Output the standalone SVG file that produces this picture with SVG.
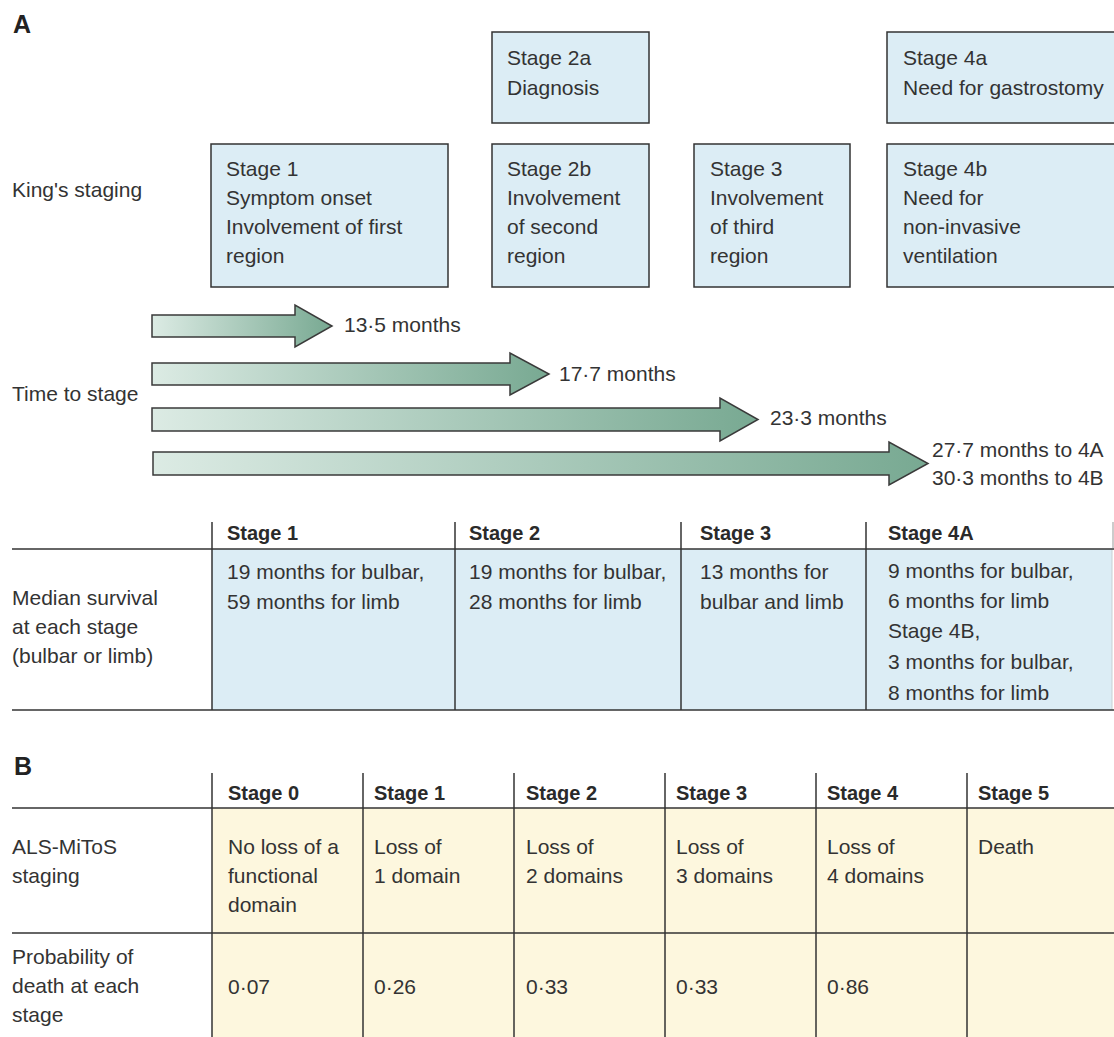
<svg xmlns="http://www.w3.org/2000/svg" width="1114" height="1037" viewBox="0 0 1114 1037">
<defs>
<linearGradient id="ag" x1="0" y1="0" x2="1" y2="0">
<stop offset="0" stop-color="#dcebe4"/>
<stop offset="1" stop-color="#78a992"/>
</linearGradient>
<style>
text{font-family:"Liberation Sans",Arial,sans-serif;font-size:21px;fill:#333}
.h{font-weight:bold;font-size:20px;fill:#2a2a2a}
.panel{font-weight:bold;font-size:25px;fill:#222}
.box{fill:#dcedf5;stroke:#333;stroke-width:1.5}
.arrow{fill:url(#ag);stroke:#3a3a3a;stroke-width:1.5;stroke-linejoin:miter}
.ln{stroke:#333;stroke-width:1.5;fill:none}
.blue{fill:#dcedf5}
.cream{fill:#fdf7de}
</style>
</defs>
<rect width="1114" height="1037" fill="#fff"/>

<text class="panel" x="13" y="33">A</text>
<text x="12" y="197">King's staging</text>
<text x="12" y="401">Time to stage</text>

<g id="stage2a">
<rect class="box" x="492" y="32" width="157" height="91"/>
<text x="507" y="65">Stage 2a</text>
<text x="507" y="95">Diagnosis</text>
</g>
<g id="stage4a">
<rect class="box" x="887" y="32" width="240" height="91"/>
<text x="903" y="65">Stage 4a</text>
<text x="903" y="95">Need for gastrostomy</text>
</g>
<g id="stage1">
<rect class="box" x="211" y="144" width="237" height="143"/>
<text x="226" y="176">Stage 1</text>
<text x="226" y="205">Symptom onset</text>
<text x="226" y="234">Involvement of first</text>
<text x="226" y="263">region</text>
</g>
<g id="stage2b">
<rect class="box" x="492" y="144" width="157" height="143"/>
<text x="507" y="176">Stage 2b</text>
<text x="507" y="205">Involvement</text>
<text x="507" y="234">of second</text>
<text x="507" y="263">region</text>
</g>
<g id="stage3">
<rect class="box" x="694" y="144" width="156" height="143"/>
<text x="710" y="176">Stage 3</text>
<text x="710" y="205">Involvement</text>
<text x="710" y="234">of third</text>
<text x="710" y="263">region</text>
</g>
<g id="stage4b">
<rect class="box" x="887" y="144" width="240" height="143"/>
<text x="903" y="176">Stage 4b</text>
<text x="903" y="205">Need for</text>
<text x="903" y="234">non-invasive</text>
<text x="903" y="263">ventilation</text>
</g>

<g id="connectors">
<path class="arrow" d="M152,315 H295 V305 L332,326 L295,347 V337 H152 Z"/>
<path class="arrow" d="M152,363 H510 V353 L549,374 L510,395 V385 H152 Z"/>
<path class="arrow" d="M152,408 H720 V398 L758,419.5 L720,441 V431 H152 Z"/>
<path class="arrow" d="M153,452 H889 V442 L928,463.5 L889,485 V475 H153 Z"/>
</g>
<g id="time-labels">
<text x="344" y="332">13·5 months</text>
<text x="559" y="381">17·7 months</text>
<text x="770" y="425">23·3 months</text>
<text x="932" y="457">27·7 months to 4A</text>
<text x="932" y="485">30·3 months to 4B</text>
</g>

<g id="table-a">
<rect class="blue" x="212" y="549" width="900" height="161"/>
<line x1="1112" y1="549" x2="1112" y2="710" stroke="#c8cfd2" stroke-width="1"/>
<line class="ln" x1="12" y1="549" x2="1114" y2="549"/>
<line class="ln" x1="12" y1="710" x2="1114" y2="710"/>
<line class="ln" x1="212" y1="522" x2="212" y2="710"/>
<line class="ln" x1="455" y1="522" x2="455" y2="710"/>
<line class="ln" x1="681" y1="522" x2="681" y2="710"/>
<line class="ln" x1="866" y1="522" x2="866" y2="710"/>
<line x1="1113" y1="522" x2="1113" y2="548" stroke="#999" stroke-width="1"/>
<text class="h" x="227" y="540">Stage 1</text>
<text class="h" x="469" y="540">Stage 2</text>
<text class="h" x="700" y="540">Stage 3</text>
<text class="h" x="888" y="540">Stage 4A</text>
<text x="12" y="605">Median survival</text>
<text x="12" y="634">at each stage</text>
<text x="12" y="663">(bulbar or limb)</text>
<text x="227" y="579">19 months for bulbar,</text>
<text x="227" y="609">59 months for limb</text>
<text x="469" y="579">19 months for bulbar,</text>
<text x="469" y="609">28 months for limb</text>
<text x="700" y="579">13 months for</text>
<text x="700" y="609">bulbar and limb</text>
<text x="888" y="578">9 months for bulbar,</text>
<text x="888" y="608">6 months for limb</text>
<text x="888" y="638">Stage 4B,</text>
<text x="888" y="669">3 months for bulbar,</text>
<text x="888" y="700">8 months for limb</text>
</g>

<g id="table-b">
<text class="panel" x="14" y="775">B</text>
<rect class="cream" x="212" y="808" width="902" height="229"/>
<line class="ln" x1="12" y1="808" x2="1114" y2="808"/>
<line class="ln" x1="12" y1="933" x2="1114" y2="933"/>
<line class="ln" x1="212" y1="773" x2="212" y2="1037"/>
<line class="ln" x1="363" y1="773" x2="363" y2="1037"/>
<line class="ln" x1="514" y1="773" x2="514" y2="1037"/>
<line class="ln" x1="665" y1="773" x2="665" y2="1037"/>
<line class="ln" x1="816" y1="773" x2="816" y2="1037"/>
<line class="ln" x1="967" y1="773" x2="967" y2="1037"/>
<text class="h" x="228" y="800">Stage 0</text>
<text class="h" x="374" y="800">Stage 1</text>
<text class="h" x="526" y="800">Stage 2</text>
<text class="h" x="676" y="800">Stage 3</text>
<text class="h" x="827" y="800">Stage 4</text>
<text class="h" x="978" y="800">Stage 5</text>
<text x="12" y="854">ALS-MiToS</text>
<text x="12" y="883">staging</text>
<text x="228" y="854">No loss of a</text>
<text x="228" y="883">functional</text>
<text x="228" y="912">domain</text>
<text x="374" y="854">Loss of</text>
<text x="374" y="883">1 domain</text>
<text x="526" y="854">Loss of</text>
<text x="526" y="883">2 domains</text>
<text x="676" y="854">Loss of</text>
<text x="676" y="883">3 domains</text>
<text x="827" y="854">Loss of</text>
<text x="827" y="883">4 domains</text>
<text x="978" y="854">Death</text>
<text x="12" y="964">Probability of</text>
<text x="12" y="993">death at each</text>
<text x="12" y="1022">stage</text>
<text x="228" y="994">0·07</text>
<text x="374" y="994">0·26</text>
<text x="526" y="994">0·33</text>
<text x="676" y="994">0·33</text>
<text x="827" y="994">0·86</text>
</g>
</svg>
